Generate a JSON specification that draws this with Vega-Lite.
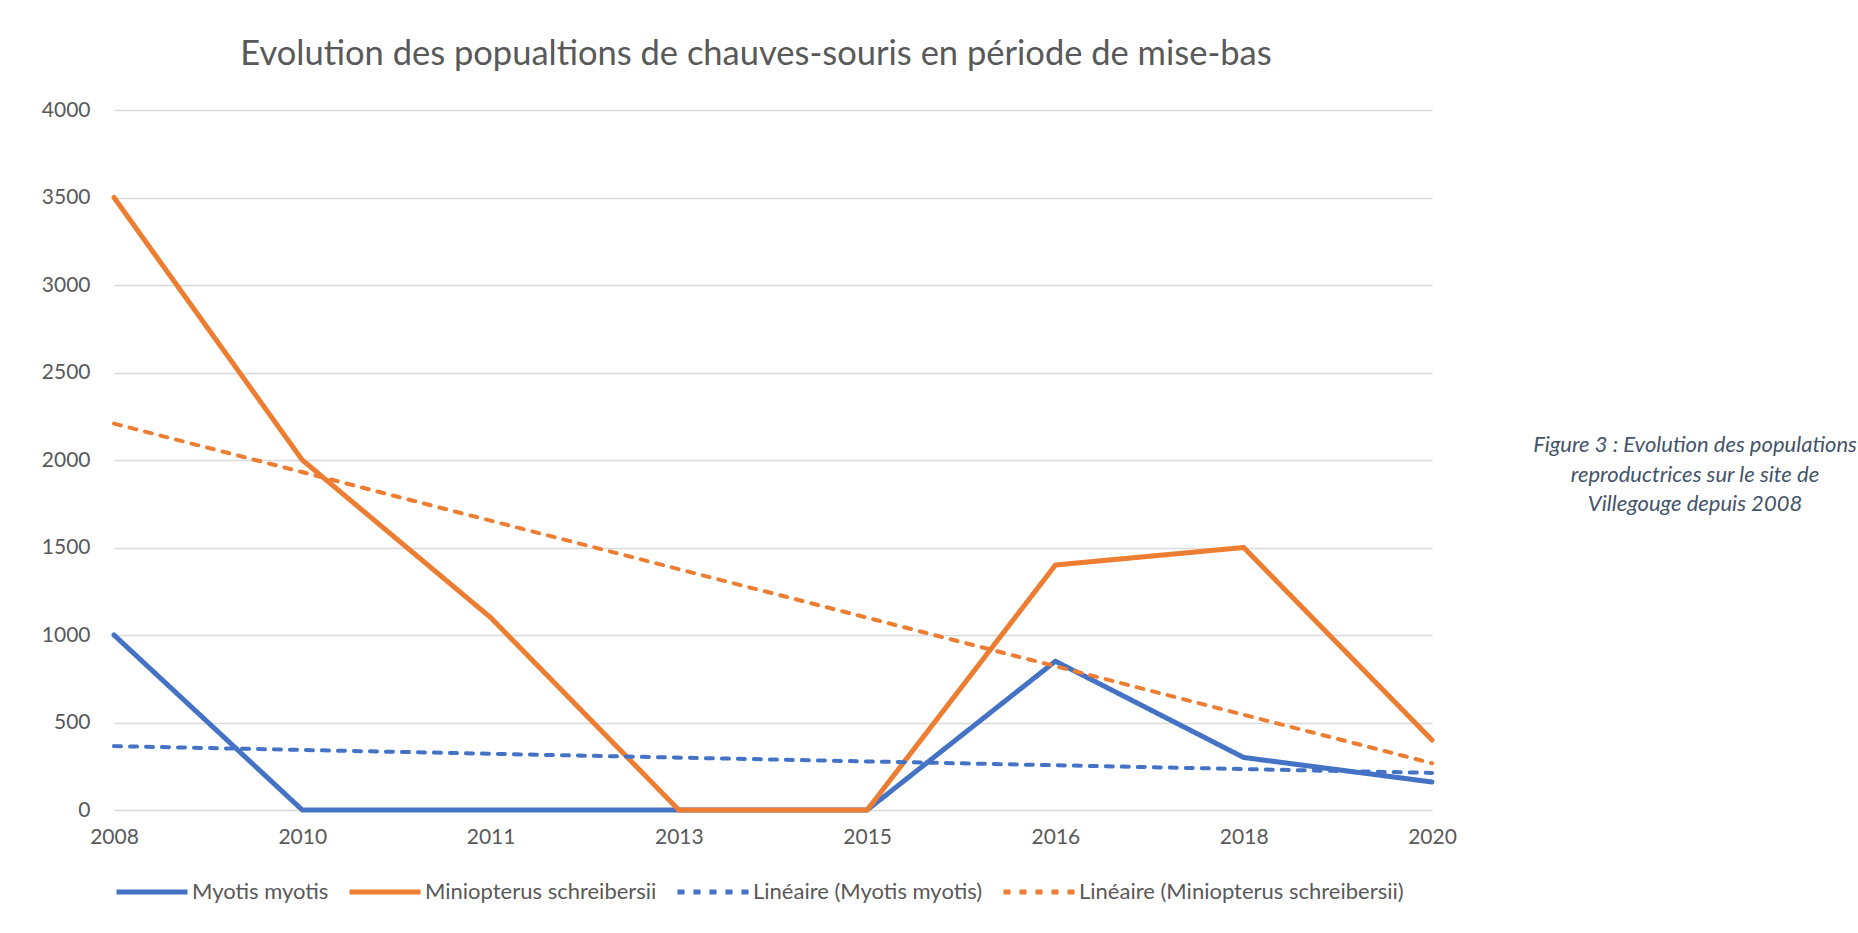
{
  "$schema": "https://vega.github.io/schema/vega-lite/v6.json",
  "background": "white",
  "padding": {"left": 0, "top": 36, "right": 0, "bottom": 0},
  "config": {
    "view": {"stroke": null},
    "font": "Lato",
    "axis": {"labelFont": "Lato", "labelColor": "#595959"},
    "legend": {"labelFont": "Lato"}
  },
  "datasets": {
    "pop": [
      {"year": "2008", "series": "Myotis myotis", "value": 1000},
      {"year": "2010", "series": "Myotis myotis", "value": 0},
      {"year": "2011", "series": "Myotis myotis", "value": 0},
      {"year": "2013", "series": "Myotis myotis", "value": 0},
      {"year": "2015", "series": "Myotis myotis", "value": 0},
      {"year": "2016", "series": "Myotis myotis", "value": 850},
      {"year": "2018", "series": "Myotis myotis", "value": 300},
      {"year": "2020", "series": "Myotis myotis", "value": 160},
      {"year": "2008", "series": "Miniopterus schreibersii", "value": 3500},
      {"year": "2010", "series": "Miniopterus schreibersii", "value": 2000},
      {"year": "2011", "series": "Miniopterus schreibersii", "value": 1100},
      {"year": "2013", "series": "Miniopterus schreibersii", "value": 0},
      {"year": "2015", "series": "Miniopterus schreibersii", "value": 0},
      {"year": "2016", "series": "Miniopterus schreibersii", "value": 1400},
      {"year": "2018", "series": "Miniopterus schreibersii", "value": 1500},
      {"year": "2020", "series": "Miniopterus schreibersii", "value": 400},
      {"year": "2008", "series": "Linéaire (Myotis myotis)", "value": 365},
      {"year": "2020", "series": "Linéaire (Myotis myotis)", "value": 212},
      {"year": "2008", "series": "Linéaire (Miniopterus schreibersii)", "value": 2208},
      {"year": "2020", "series": "Linéaire (Miniopterus schreibersii)", "value": 267}
    ],
    "caption": [
      {"text": "Figure 3 : Evolution des populations\nreproductrices sur le site de\nVillegouge depuis 2008"}
    ]
  },
  "resolve": {
    "scale": {"color": "independent", "strokeDash": "independent"},
    "legend": {"color": "independent", "strokeDash": "independent"}
  },
  "hconcat": [
    {
      "title": {
        "text": "Evolution des popualtions de chauves-souris en période de mise-bas",
        "fontSize": 34.5,
        "font": "Lato",
        "fontWeight": "normal",
        "color": "#595959",
        "anchor": "middle",
        "frame": "group",
        "dx": -17,
        "offset": 27
      },
      "width": 1318,
      "height": 700,
      "data": {"name": "pop"},
      "encoding": {
        "x": {
          "field": "year",
          "type": "ordinal",
          "scale": {"type": "point", "padding": 0, "domain": ["2008", "2010", "2011", "2013", "2015", "2016", "2018", "2020"]},
          "axis": {"title": null, "labelAngle": 0, "ticks": false, "domain": false, "grid": false, "labelFontSize": 21, "labelPadding": 16}
        },
        "y": {
          "field": "value",
          "type": "quantitative",
          "scale": {"domain": [0, 4000], "nice": false, "zero": true},
          "axis": {"title": null, "format": "d", "values": [0, 500, 1000, 1500, 2000, 2500, 3000, 3500, 4000], "ticks": false, "domain": false, "grid": true, "gridColor": "#D9D9D9", "gridWidth": 1.5, "labelFontSize": 21, "labelPadding": 24, "minExtent": 114, "maxExtent": 114}
        },
        "color": {
          "field": "series",
          "type": "nominal",
          "scale": {
            "domain": ["Myotis myotis", "Miniopterus schreibersii", "Linéaire (Myotis myotis)", "Linéaire (Miniopterus schreibersii)"],
            "range": ["#4472C4", "#ED7D31", "#4472C4", "#ED7D31"]
          },
          "legend": {
            "title": null,
            "orient": "bottom",
            "direction": "horizontal",
            "columns": 4,
            "symbolType": "stroke",
            "symbolSize": 5041,
            "symbolStrokeWidth": 5,
            "labelFontSize": 22,
            "labelColor": "#595959",
            "labelLimit": 500,
            "columnPadding": 10,
            "labelOffset": 2,
            "offset": 7
          }
        },
        "strokeDash": {
          "field": "series",
          "type": "nominal",
          "scale": {
            "domain": ["Myotis myotis", "Miniopterus schreibersii", "Linéaire (Myotis myotis)", "Linéaire (Miniopterus schreibersii)"],
            "range": [[1, 0], [1, 0], [7, 9], [7, 9]]
          },
          "legend": {
            "title": null,
            "orient": "bottom",
            "direction": "horizontal",
            "columns": 4,
            "symbolType": "stroke",
            "symbolSize": 5041,
            "symbolStrokeWidth": 5,
            "labelFontSize": 22,
            "labelColor": "#595959",
            "labelLimit": 500,
            "columnPadding": 10,
            "labelOffset": 2,
            "offset": 7
          }
        }
      },
      "layer": [
        {
          "transform": [{"filter": {"field": "series", "oneOf": ["Myotis myotis", "Miniopterus schreibersii"]}}],
          "mark": {"type": "line", "strokeWidth": 5, "strokeJoin": "round", "strokeCap": "round"}
        },
        {
          "transform": [{"filter": {"field": "series", "oneOf": ["Linéaire (Myotis myotis)", "Linéaire (Miniopterus schreibersii)"]}}],
          "mark": {"type": "line", "strokeWidth": 4, "strokeCap": "round"}
        }
      ]
    },
    {
      "width": 330,
      "height": 650,
      "data": {"name": "caption"},
      "mark": {"type": "text", "align": "center", "baseline": "top", "font": "Lato", "fontStyle": "italic", "fontSize": 22, "color": "#44546A", "lineBreak": "\n", "lineHeight": 29.5},
      "encoding": {"text": {"field": "text", "type": "nominal"}}
    }
  ],
  "spacing": 73
}
